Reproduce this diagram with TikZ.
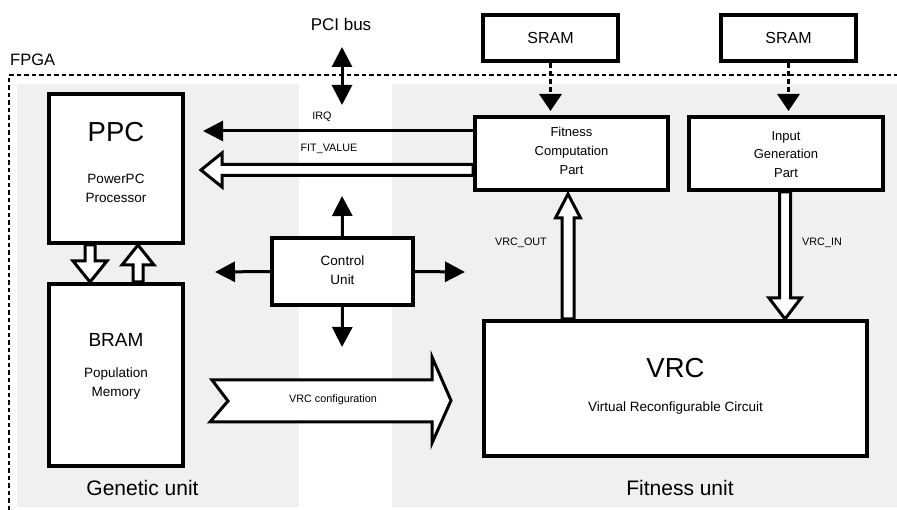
\documentclass[tikz,border=0pt]{standalone}
\usepackage{fontspec}
\setmainfont{Liberation Sans}
\usetikzlibrary{arrows.meta,calc}
\definecolor{bggray}{HTML}{F0F0F0}
\tikzset{
  box/.style={draw, fill=white, line width=4pt, inner sep=0pt},
  arr/.style={line width=3pt, -{Triangle[length=20pt,width=20pt]}},
  darr/.style={line width=3pt, {Triangle[length=20pt,width=20pt]}-{Triangle[length=20pt,width=20pt]}},
  sarr/.style={line width=3.5pt, dash pattern=on 5pt off 3pt, -{Triangle[length=17pt,width=22pt]}},
  hollow/.style={draw, fill=white, line width=3pt, line join=miter},
  fpgaline/.style={line width=2.3pt, dash pattern=on 4.5pt off 3pt},
  lbl/.style={inner sep=0pt, font=\fontsize{10.8pt}{12pt}\selectfont},
  mid/.style={inner sep=0pt, align=center, font=\fontsize{13.5pt}{19pt}\selectfont},
  big/.style={inner sep=0pt, font=\fontsize{27.5pt}{30pt}\selectfont},
  unitlbl/.style={inner sep=0pt, font=\fontsize{21pt}{24pt}\selectfont}
}
\newcommand\harrow[6][]{%
  \coordinate (ha) at #2;
  \coordinate (hb) at #3;
  \coordinate (hh) at ($(hb)!#6!(ha)$);
  \draw[hollow,#1] ($(ha)!#4!90:(hb)$) -- ($(hh)!#4!90:(hb)$) -- ($(hh)!#5!90:(hb)$) -- (hb)
    -- ($(hh)!#5!-90:(hb)$) -- ($(hh)!#4!-90:(hb)$) -- ($(ha)!#4!-90:(hb)$) -- cycle;}
\begin{document}
\begin{tikzpicture}[x=1pt,y=-1pt]
\useasboundingbox (0,0) rectangle (897,510);
% backgrounds
\fill[bggray] (17,84) rectangle (299,507);
\fill[bggray] (392,84) rectangle (897,507);
% FPGA border
\draw[fpgaline] (9,510) -- (9,75) -- (897,75);
\node[inner sep=0pt, anchor=west, font=\fontsize{16.5pt}{18pt}\selectfont] (fpga) at (10,60) {FPGA};
\node[inner sep=0pt, font=\fontsize{17pt}{19pt}\selectfont] (pci) at (341,24) {PCI bus};
% boxes
\node[box, minimum width=134pt, minimum height=149pt] (ppc) at (116,168.5) {};
\node[box, minimum width=134pt, minimum height=182pt] (bram) at (116,375) {};
\node[box, minimum width=141pt, minimum height=67pt] (ctrl) at (342.5,271.5) {};
\node[box, minimum width=135pt, minimum height=46pt] (sram1) at (550.5,38) {};
\node[box, minimum width=135pt, minimum height=46pt] (sram2) at (788.5,38) {};
\node[box, minimum width=193pt, minimum height=73pt] (fcp) at (571.5,153.5) {};
\node[box, minimum width=194pt, minimum height=73pt] (igp) at (786,153.5) {};
\node[box, minimum width=383pt, minimum height=135pt] (vrc) at (675.5,388.5) {};
% box texts
\node[big] (ppct) at (116,132) {PPC};
\node[mid] (ppcs) at (116,188) {PowerPC\\Processor};
\node[inner sep=0pt, font=\fontsize{19pt}{21pt}\selectfont] (bramt) at (116,340) {BRAM};
\node[mid] (brams) at (116,383.5) {Population\\Memory};
\node[mid] (ctrlt) at (342.5,270) {Control\\Unit};
\node[inner sep=0pt, font=\fontsize{16pt}{18pt}\selectfont] (s1t) at (sram1) {SRAM};
\node[inner sep=0pt, font=\fontsize{16pt}{18pt}\selectfont] (s2t) at (sram2) {SRAM};
\node[mid, font=\fontsize{13pt}{19pt}\selectfont] (fcpt) at (571.5,151) {Fitness\\Computation\\Part};
\node[mid, font=\fontsize{13pt}{18.5pt}\selectfont] (igpt) at (786,154.5) {Input\\Generation\\Part};
\node[big] (vrct) at (675.5,368) {VRC};
\node[mid] (vrcs) at (675.5,408) {Virtual Reconfigurable Circuit};
% unit labels
\node[unitlbl] (gu) at (142.5,488) {Genetic unit};
\node[unitlbl] (fu) at (680,488) {Fitness unit};
% PCI bus
\coordinate (pcia) at (342,47);
\coordinate (pcib) at (342,105);
\draw[darr] (pcia) -- (pcib);
% IRQ
\coordinate (irqend) at (203,131);
\draw[arr] ($(fcp.west)+(0,-22.5)$) -- (irqend);
\node[lbl] (irq) at (322,117) {IRQ};
% FIT_VALUE
\coordinate (fitend) at (201,170);
\harrow{($(fcp.west)+(0,16.5)$)}{(fitend)}{5.5pt}{17pt}{21pt}
\node[lbl] (fit) at (329,149) {FIT\_VALUE};
% control unit arrows
\coordinate (cup) at (342,196);
\coordinate (cdown) at (342,347);
\coordinate (cleft) at (215,272);
\coordinate (cright) at (465,272);
\draw[arr] (ctrl.north) -- (cup);
\draw[arr] (ctrl.south) -- (cdown);
\draw[arr] (ctrl.west) -- (cleft);
\draw[arr] (ctrl.east) -- (cright);
% PPC <-> BRAM
\harrow{($(ppc.south)+(-26,0)$)}{($(bram.north)+(-26,0)$)}{5pt}{17pt}{21pt}
\harrow{($(bram.north)+(22,0)$)}{($(ppc.south)+(22,0)$)}{5pt}{16pt}{20pt}
% SRAM arrows
\draw[sarr] (sram1.south) -- ($(sram1.south |- fcp.north)+(0,-4)$);
\draw[sarr] (sram2.south) -- ($(sram2.south |- igp.north)+(0,-4)$);
% VRC_OUT / VRC_IN
\harrow{($(vrc.north)+(-107.5,0)$)}{($(fcp.south)+(-3.5,2)$)}{6pt}{12.5pt}{24pt}
\node[lbl] (vout) at (521,243) {VRC\_OUT};
\harrow{($(igp.south)+(-1,0)$)}{($(vrc.north)+(109.5,0)$)}{5.5pt}{16pt}{21pt}
\node[lbl] (vin) at (822,243) {VRC\_IN};
% VRC configuration
\draw[hollow] (212,380) -- (432,380) -- (432,357) -- (451,400.5) -- (432,443) -- (432,422) -- (210,422) -- (228,401) -- cycle;
\node[lbl] (cfg) at (333,400) {VRC configuration};
\end{tikzpicture}
\end{document}
